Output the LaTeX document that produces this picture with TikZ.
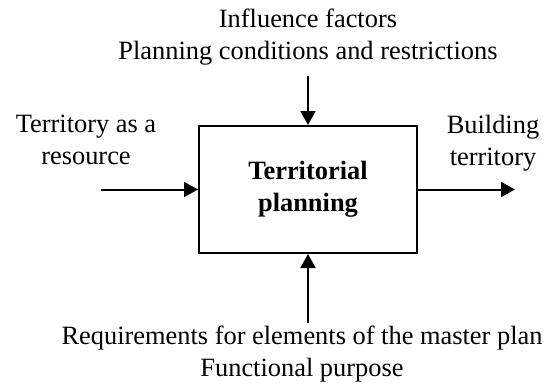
\documentclass[tikz,border=0pt]{standalone}
\usepackage{fontspec}
\setmainfont{Liberation Serif}
\usetikzlibrary{arrows.meta}
\begin{document}
\begin{tikzpicture}[x=0.5pt, y=-0.5pt,
    main/.style = {draw, line width=1pt, minimum width=109pt, minimum height=63.5pt, align=center, font=\fontsize{13.2}{16}\selectfont\bfseries},
    lbl/.style = {align=center, inner sep=0pt, font=\fontsize{13.2}{16}\selectfont},
    flow/.style = {-{Triangle[length=7pt,width=7.5pt]}, line width=1pt}]
    \useasboundingbox (0,0) rectangle (552,387);
    \node[main] (tp) at (308,189.5) {Territorial\\planning};
    \node[lbl] (inf) at (308,37) {Influence factors\\Planning conditions and restrictions};
    \node[lbl] (res) at (86,140) {Territory as a\\resource};
    \node[lbl] (bld) at (493,143) {Building\\territory};
    \node[lbl] (req) at (302,354) {Requirements for elements of the master plan\\Functional purpose};
    \coordinate (topin) at (308,76);
    \coordinate (leftin) at (101,189.5);
    \coordinate (rightout) at (515,189.5);
    \coordinate (botin) at (308,323);
    \draw[flow] (topin) -- (tp.north);
    \draw[flow] (leftin) -- (tp.west);
    \draw[flow] (tp.east) -- (rightout);
    \draw[flow] (botin) -- (tp.south);
\end{tikzpicture}
\end{document}
